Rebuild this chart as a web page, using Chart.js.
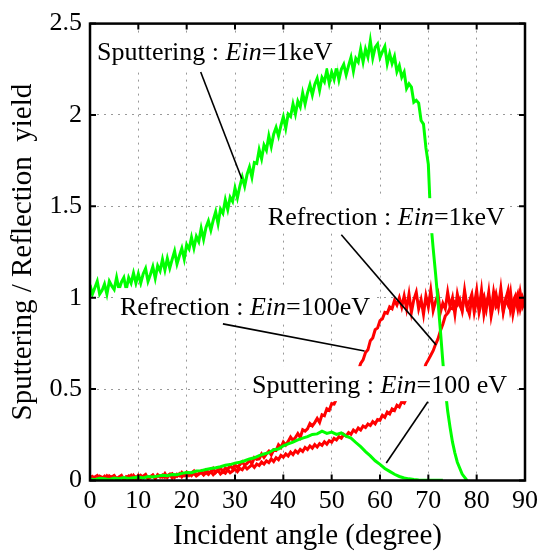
<!DOCTYPE html>
<html>
<head>
<meta charset="utf-8">
<script src="https://cdn.jsdelivr.net/npm/chart.js@4.4.1/dist/chart.umd.min.js"></script>
<style>
  html, body { margin: 0; padding: 0; background: #fff; }
  #wrap { width: 543px; height: 558px; position: relative; }
</style>
</head>
<body>
<div id="wrap"><canvas id="chart"></canvas></div>
<script>
// axis ticks
const xTicks = [0, 10, 20, 30, 40, 50, 60, 70, 80, 90];
const yTicks = [0, 0.5, 1, 1.5, 2, 2.5];

// Sputtering, Ein = 1keV : sampled every 0.5 deg from 0 to 70
const sput1kFine = [
  1.070, 1.020, 1.055, 1.090, 1.020, 1.040, 1.075, 1.020, 1.090, 1.065,
  1.045, 1.110, 1.045, 1.085, 1.110, 1.045, 1.110, 1.080, 1.135, 1.080,
  1.130, 1.080, 1.130, 1.160, 1.090, 1.127, 1.170, 1.107, 1.175, 1.147,
  1.210, 1.152, 1.215, 1.162, 1.210, 1.255, 1.185, 1.230, 1.270, 1.212,
  1.290, 1.267, 1.330, 1.272, 1.335, 1.307, 1.380, 1.320, 1.385, 1.420,
  1.370, 1.425, 1.470, 1.405, 1.485, 1.462, 1.535, 1.482, 1.550, 1.527,
  1.600, 1.547, 1.610, 1.660, 1.610, 1.675, 1.715, 1.660, 1.740, 1.735,
  1.810, 1.760, 1.835, 1.807, 1.885, 1.827, 1.895, 1.932, 1.885, 1.942,
  1.990, 1.927, 2.005, 1.992, 2.060, 2.005, 2.075, 2.045, 2.120, 2.060,
  2.120, 2.165, 2.110, 2.167, 2.200, 2.135, 2.205, 2.182, 2.245, 2.175,
  2.235, 2.195, 2.260, 2.192, 2.250, 2.277, 2.220, 2.270, 2.315, 2.240,
  2.310, 2.290, 2.360, 2.290, 2.360, 2.317, 2.405, 2.312, 2.370, 2.388,
  2.315, 2.347, 2.375, 2.280, 2.335, 2.282, 2.320, 2.237, 2.270, 2.207,
  2.235, 2.145, 2.170, 2.152, 2.070, 2.080, 2.065, 1.970, 1.950, 1.820,
  1.730
];
// steep fall-off after 70 deg
const sput1kTailAngle = [70.5, 71, 71.5, 72, 72.5, 73, 73.5, 74, 74.5, 75, 75.5, 76, 77, 78];
const sput1kTail = [1.42, 1.27, 1.13, 0.98, 0.82, 0.65, 0.50, 0.38, 0.29, 0.21, 0.15, 0.10, 0.035, 0];

// Sputtering, Ein = 100 eV : every 1 deg from 0 to 73
const sput100 = [
  0.008, 0.004, 0.012, 0.009, 0.006, 0.013, 0.010, 0.016, 0.011, 0.015,
  0.019, 0.014, 0.022, 0.019, 0.024, 0.029, 0.026, 0.033, 0.032, 0.039,
  0.044, 0.043, 0.052, 0.054, 0.060, 0.066, 0.070, 0.075, 0.083, 0.087,
  0.095, 0.100, 0.108, 0.118, 0.124, 0.136, 0.145, 0.152, 0.168, 0.172,
  0.190, 0.200, 0.210, 0.222, 0.232, 0.240, 0.252, 0.255, 0.270, 0.258,
  0.265, 0.252, 0.260, 0.242, 0.232, 0.208, 0.185, 0.158, 0.135, 0.108,
  0.088, 0.066, 0.050, 0.034, 0.022, 0.014, 0.009, 0.005, 0.003, 0.002,
  0.002, 0.002, 0.002, 0.002
];

// Reflection, Ein = 100 eV : every 0.5 deg from 0 to 90
const refl100 = [
  0.025, 0.007, 0.019, 0.027, 0.005, 0.012, 0.023, 0.003, 0.025, 0.015,
  0.026, 0.008, 0.020, 0.028, 0.007, 0.014, 0.025, 0.005, 0.028, 0.012,
  0.029, 0.011, 0.024, 0.033, 0.011, 0.018, 0.030, 0.010, 0.032, 0.023,
  0.018, 0.038, 0.016, 0.030, 0.037, 0.017, 0.034, 0.026, 0.044, 0.028,
  0.045, 0.028, 0.042, 0.052, 0.030, 0.039, 0.052, 0.033, 0.057, 0.046,
  0.043, 0.065, 0.044, 0.060, 0.067, 0.048, 0.068, 0.060, 0.082, 0.065,
  0.085, 0.072, 0.086, 0.102, 0.084, 0.094, 0.110, 0.092, 0.125, 0.115,
  0.118, 0.145, 0.126, 0.145, 0.160, 0.140, 0.168, 0.164, 0.195, 0.180,
  0.210, 0.194, 0.214, 0.238, 0.220, 0.235, 0.257, 0.236, 0.278, 0.270,
  0.283, 0.312, 0.299, 0.317, 0.340, 0.318, 0.360, 0.354, 0.392, 0.384,
  0.420, 0.418, 0.447, 0.452, 0.478, 0.483, 0.508, 0.512, 0.547, 0.552,
  0.590, 0.600, 0.640, 0.660, 0.700, 0.715, 0.765, 0.780, 0.825, 0.835,
  0.875, 0.885, 0.920, 0.915, 0.950, 0.940, 0.985, 0.960, 1.000, 0.950,
  1.010, 0.940, 1.020, 0.920, 0.990, 1.030, 0.940, 0.990, 0.910, 1.010,
  0.950, 1.040, 0.930, 0.980, 1.020, 0.920, 0.970, 0.940, 1.030, 0.950,
  1.000, 0.910, 1.020, 0.960, 0.930, 1.040, 0.950, 0.980, 1.020, 0.920,
  0.990, 0.940, 1.040, 0.910, 0.980, 1.010, 0.930, 1.030, 0.950, 0.970,
  1.020, 0.920, 0.990, 1.040, 0.930, 0.980, 1.010, 0.940, 1.030, 0.950,
  0.980
];

// Reflection, Ein = 1keV : every 0.5 deg from 0 to 90
const refl1k = [
  0.008, 0.022, 0.013, 0.004, 0.024, 0.017, 0.009, 0.026, 0.012, 0.020,
  0.027, 0.009, 0.017, 0.024, 0.006, 0.021, 0.015, 0.028, 0.010, 0.019,
  0.012, 0.028, 0.016, 0.030, 0.011, 0.022, 0.029, 0.013, 0.027, 0.018,
  0.030, 0.017, 0.026, 0.035, 0.014, 0.029, 0.022, 0.036, 0.019, 0.033,
  0.024, 0.039, 0.027, 0.040, 0.025, 0.034, 0.044, 0.030, 0.042, 0.033,
  0.050, 0.032, 0.045, 0.055, 0.036, 0.048, 0.040, 0.058, 0.043, 0.052,
  0.062, 0.048, 0.066, 0.059, 0.078, 0.063, 0.074, 0.086, 0.072, 0.090,
  0.082, 0.101, 0.090, 0.108, 0.098, 0.118, 0.104, 0.125, 0.114, 0.137,
  0.128, 0.145, 0.134, 0.155, 0.142, 0.163, 0.151, 0.170, 0.159, 0.181,
  0.170, 0.189, 0.177, 0.196, 0.183, 0.202, 0.192, 0.212, 0.199, 0.218,
  0.210, 0.231, 0.222, 0.240, 0.232, 0.252, 0.243, 0.262, 0.253, 0.276,
  0.265, 0.287, 0.276, 0.298, 0.290, 0.309, 0.301, 0.322, 0.310, 0.334,
  0.330, 0.357, 0.346, 0.374, 0.364, 0.392, 0.383, 0.412, 0.402, 0.432,
  0.424, 0.452, 0.453, 0.482, 0.498, 0.532, 0.548, 0.582, 0.598, 0.637,
  0.660, 0.685, 0.710, 0.745, 0.775, 0.820, 0.855, 0.900, 0.915, 0.945,
  0.940, 0.975, 0.960, 0.990, 0.930, 1.020, 0.950, 0.910, 1.000, 0.960,
  1.040, 0.920, 0.980, 1.010, 0.940, 1.030, 0.900, 0.970, 1.020, 0.950,
  1.050, 0.930, 0.990, 0.960, 1.030, 0.910, 0.980, 1.020, 0.940, 1.000,
  0.960
];

// labels with leader lines, in data units: text start/baseline, line from -> to
const notes = [
  { pre: 'Sputtering : ', post: '=1keV', at: [1.45, 2.30], from: [22.9, 2.235], to: [31.4, 1.651] },
  { pre: 'Refrection : ', post: '=1keV', at: [36.8, 1.397], from: [52.0, 1.345], to: [71.6, 0.742] },
  { pre: 'Refrection : ', post: '=100eV', at: [6.2, 0.905], from: [27.5, 0.857], to: [56.8, 0.709] },
  { pre: 'Sputtering : ', post: '=100 eV', at: [33.5, 0.478], from: [69.9, 0.431], to: [61.3, 0.096] }
];

const FONT = '"Liberation Serif", "Times New Roman", serif';
const GREEN = '#00ff00';
const RED = '#ff0000';

const onGrid = (vals, dx) => vals.map((v, i) => ({ x: i * dx, y: v }));
const pairs = (xs, ys) => xs.map((a, i) => ({ x: a, y: ys[i] }));

const notesPlugin = {
  id: 'notes',
  afterDatasetsDraw(chart) {
    const { ctx, chartArea: a, scales: { x, y } } = chart;
    const normal = '26px ' + FONT;
    const italic = 'italic 26px ' + FONT;
    ctx.save();

    notes.forEach(n => {
      const px = x.getPixelForValue(n.at[0]);
      const py = y.getPixelForValue(n.at[1]);
      const parts = [[n.pre, normal], ['Ein', italic], [n.post, normal]];
      let w = 0;
      parts.forEach(p => { ctx.font = p[1]; w += ctx.measureText(p[0]).width; });
      ctx.fillStyle = '#fff';
      ctx.fillRect(px - 3, py - 27, w + 8, 35);
      ctx.fillStyle = '#000';
      ctx.textBaseline = 'alphabetic';
      ctx.textAlign = 'left';
      let cx = px;
      parts.forEach(p => {
        ctx.font = p[1];
        ctx.fillText(p[0], cx, py);
        cx += ctx.measureText(p[0]).width;
      });
    });

    ctx.strokeStyle = '#000';
    ctx.lineWidth = 1.6;
    notes.forEach(n => {
      ctx.beginPath();
      ctx.moveTo(x.getPixelForValue(n.from[0]), y.getPixelForValue(n.from[1]));
      ctx.lineTo(x.getPixelForValue(n.to[0]), y.getPixelForValue(n.to[1]));
      ctx.stroke();
    });

    // frame with inward ticks on all sides
    ctx.lineWidth = 2.5;
    ctx.strokeRect(a.left, a.top, a.right - a.left, a.bottom - a.top);
    ctx.lineWidth = 2;
    ctx.beginPath();
    xTicks.forEach(v => {
      const p = x.getPixelForValue(v);
      ctx.moveTo(p, a.bottom); ctx.lineTo(p, a.bottom - 6);
      ctx.moveTo(p, a.top); ctx.lineTo(p, a.top + 6);
    });
    yTicks.forEach(v => {
      const p = y.getPixelForValue(v);
      ctx.moveTo(a.left, p); ctx.lineTo(a.left + 6, p);
      ctx.moveTo(a.right, p); ctx.lineTo(a.right - 6, p);
    });
    ctx.stroke();
    ctx.restore();
  }
};

const line = (data, color, width) => ({
  data, borderColor: color, backgroundColor: color, borderWidth: width,
  pointRadius: 0, tension: 0, fill: false
});

new Chart(document.getElementById('chart'), {
  type: 'line',
  data: {
    datasets: [
      line(onGrid(sput1kFine, 0.5).concat(pairs(sput1kTailAngle, sput1kTail)), GREEN, 3),
      line(onGrid(sput100, 1), GREEN, 3),
      line(onGrid(refl100, 0.5), RED, 3),
      line(onGrid(refl1k, 0.5), RED, 3)
    ]
  },
  options: {
    responsive: true,
    maintainAspectRatio: false,
    animation: false,
    layout: { padding: { top: 18, right: 17.4, left: 0, bottom: 0 } },
    plugins: { legend: { display: false }, tooltip: { enabled: false } },
    scales: {
      x: {
        type: 'linear', min: 0, max: 90,
        afterBuildTicks: s => { s.ticks = xTicks.map(v => ({ value: v })); },
        afterFit: s => { s.height = 77.5; },
        ticks: { color: '#000', font: { family: FONT, size: 26 }, padding: 5, maxRotation: 0, autoSkip: false },
        grid: { color: '#999', lineWidth: 1, drawTicks: false },
        border: { display: false, dash: [2, 5] },
        title: { display: true, text: 'Incident angle (degree)', color: '#000',
                 font: { family: FONT, size: 29 }, padding: { top: 0, bottom: 4.6 } }
      },
      y: {
        type: 'linear', min: 0, max: 2.5,
        afterBuildTicks: s => { s.ticks = yTicks.map(v => ({ value: v })); },
        afterFit: s => { s.width = 90; },
        ticks: { color: '#000', font: { family: FONT, size: 26 }, padding: 8, autoSkip: false,
                 callback: v => String(v) },
        grid: { color: '#999', lineWidth: 1, drawTicks: false },
        border: { display: false, dash: [2, 5] },
        title: { display: true, text: 'Sputtering / Reflection  yield', color: '#000',
                 font: { family: FONT, size: 29 }, padding: { top: 6, bottom: 0 } }
      }
    }
  },
  plugins: [notesPlugin]
});
</script>
</body>
</html>
